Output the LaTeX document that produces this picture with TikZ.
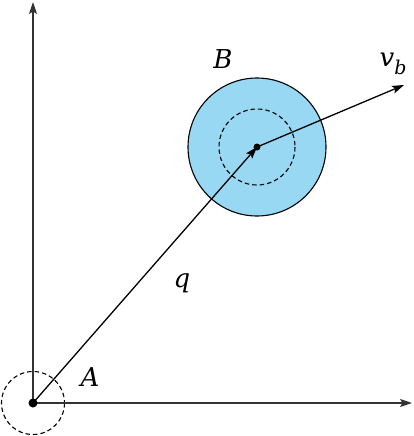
\documentclass[tikz,border=0pt]{standalone}
\usepackage{fontspec}
\newfontfamily\lblfont{DejaVu Serif}
\usetikzlibrary{arrows.meta}
\definecolor{ballblue}{RGB}{152,216,242}
\begin{document}
\begin{tikzpicture}[x=1pt,y=-1pt,
  axis/.style={line width=1.3pt,draw=black!80,-{Stealth[length=12pt,width=8pt,inset=2.5pt]}},
  vec/.style={line width=1.3pt,-{Stealth[length=12pt,width=8pt,inset=2.5pt]}},
  dashcirc/.style={draw,line width=1.1pt,dash pattern=on 4.5pt off 3pt},
  lbl/.style={inner sep=0pt,font=\lblfont\itshape\fontsize{26}{30}\selectfont}]
\useasboundingbox (0,0) rectangle (414,436);
\coordinate (A) at (33,403);
\coordinate (Bc) at (257,147);
\coordinate (ytip) at (33,2);
\coordinate (xtip) at (412,403);
\coordinate (vtip) at (404,85);
\draw[fill=ballblue,line width=1.1pt] (Bc) circle[radius=69];
\draw[dashcirc] (Bc) circle[radius=38];
\draw[dashcirc] (A) circle[radius=31.5];
\draw[axis] (A) -- (ytip);
\draw[axis] (A) -- (xtip);
\draw[vec] (A) -- (Bc);
\draw[vec] (Bc) -- (vtip);
\fill (A) circle[radius=4.5];
\fill (Bc) circle[radius=3.5];
\node[lbl] (lA) at (90,377) {A};
\node[lbl] (lB) at (223,59) {B};
\node[lbl] (lq) at (182,283) {q};
\node[lbl] (lv) at (393,64) {v\raisebox{-0.3em}{\fontsize{19}{21}\selectfont b}};
\end{tikzpicture}
\end{document}
